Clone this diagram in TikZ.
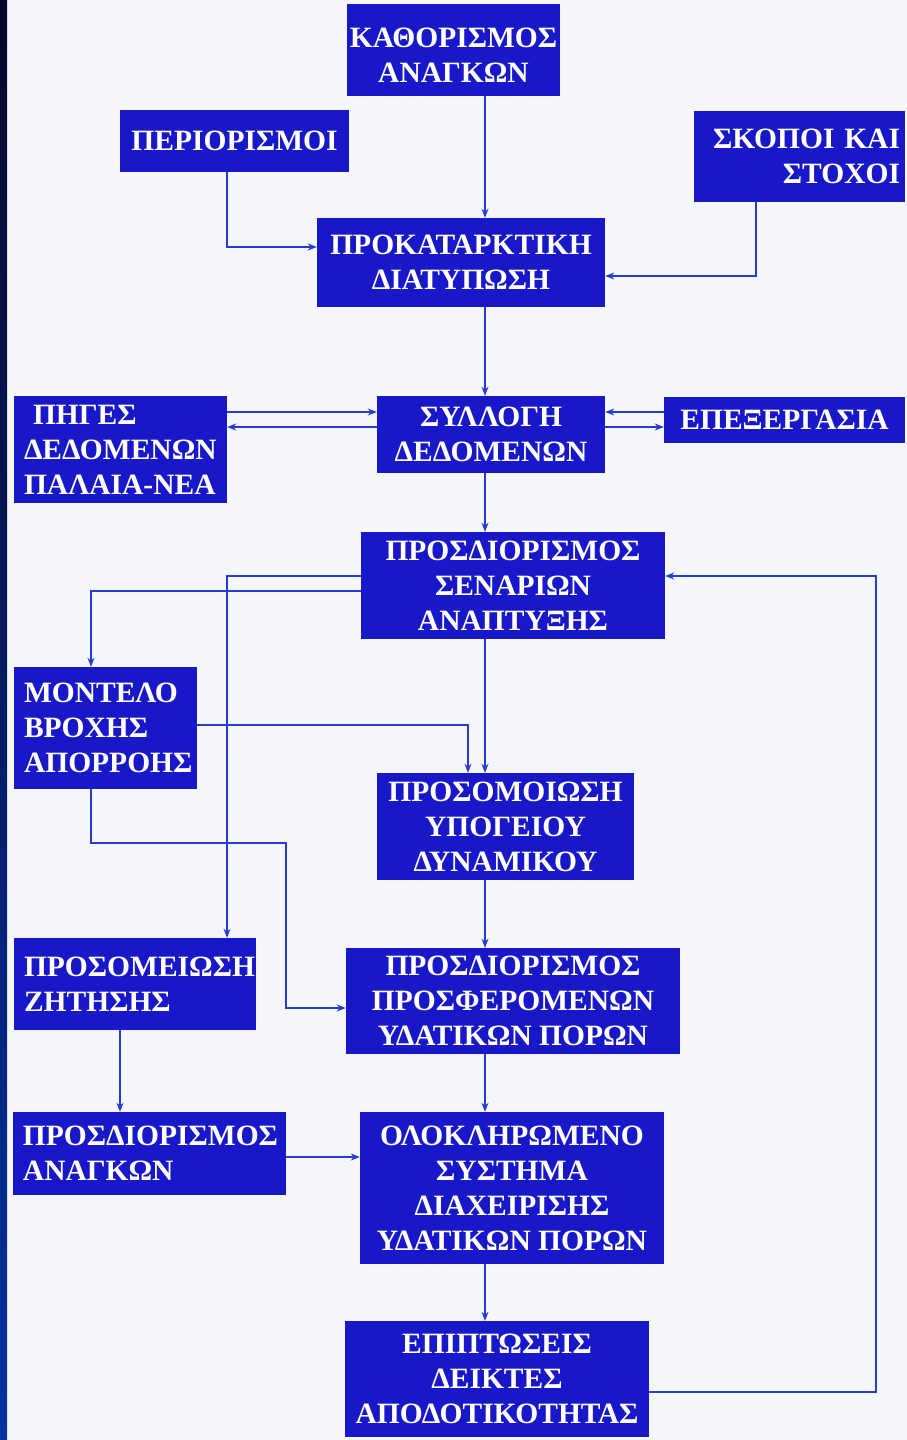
\documentclass[tikz,border=0pt]{standalone}
\usepackage{fontspec}
\setmainfont{Liberation Serif}
\usepackage{tikz}
\usetikzlibrary{arrows.meta,positioning}
\definecolor{boxblue}{RGB}{24,24,200}
\definecolor{lineblue}{RGB}{40,60,210}
\definecolor{pagebg}{RGB}{246,247,252}
\definecolor{stripnavy}{RGB}{6,8,40}
\definecolor{stripblue}{RGB}{4,50,160}

\begin{document}
\begin{tikzpicture}[
x=1pt, y=-1pt,
font=\bfseries\fontsize{29.5}{35}\selectfont,
block/.style={fill=boxblue, text=white, inner sep=0pt, align=center},
leftblock/.style={block, align=left, inner xsep=10pt},
flow/.style={lineblue, line width=1.4pt, -{Stealth[length=9pt,width=7pt]}}
]
    % Page and left strip
    \useasboundingbox (0,0) rectangle (907,1440);
    \fill[pagebg] (0,0) rectangle (907,1440);
    \shade[top color=stripnavy, bottom color=stripblue] (0,0) rectangle (7,1440);

    % Boxes
    \node[block, minimum width=213pt, minimum height=92pt] (kath) at (453.5,50) {\rule{0pt}{30pt}ΚΑΘΟΡΙΣΜΟΣ\\ΑΝΑΓΚΩΝ};
    \node[block, minimum width=229pt, minimum height=62pt] (perior) at (234.5,141) {ΠΕΡΙΟΡΙΣΜΟΙ};
    \node[block, align=right, inner xsep=5pt, text width=201pt, minimum height=91pt] (skopoi) at (799.5,156.5) {ΣΚΟΠΟΙ ΚΑΙ\\ΣΤΟΧΟΙ};
    \node[block, minimum width=288pt, minimum height=89pt] (prok) at (461,262.5) {ΠΡΟΚΑΤΑΡΚΤΙΚΗ\\ΔΙΑΤΥΠΩΣΗ};
    \node[leftblock, text width=193pt, minimum height=107pt] (piges) at (120.5,449.5) {\hspace{9pt}ΠΗΓΕΣ\\ΔΕΔΟΜΕΝΩΝ\\ΠΑΛΑΙΑ-ΝΕΑ};
    \node[block, minimum width=228pt, minimum height=77pt] (syl) at (491,434.5) {ΣΥΛΛΟΓΗ\\ΔΕΔΟΜΕΝΩΝ};
    \node[block, minimum width=241pt, minimum height=46pt] (epex) at (784.5,420) {ΕΠΕΞΕΡΓΑΣΙΑ};
    \node[block, minimum width=304pt, minimum height=107pt] (senar) at (513,585.5) {ΠΡΟΣΔΙΟΡΙΣΜΟΣ\\ΣΕΝΑΡΙΩΝ\\ΑΝΑΠΤΥΞΗΣ};
    \node[leftblock, text width=163pt, minimum height=122pt] (montelo) at (105.5,728) {ΜΟΝΤΕΛΟ\\ΒΡΟΧΗΣ\\ΑΠΟΡΡΟΗΣ};
    \node[block, minimum width=257pt, minimum height=107pt] (ypog) at (505.5,826.5) {ΠΡΟΣΟΜΟΙΩΣΗ\\ΥΠΟΓΕΙΟΥ\\ΔΥΝΑΜΙΚΟΥ};
    \node[leftblock, text width=222pt, minimum height=92pt] (zitisi) at (135,984) {ΠΡΟΣΟΜΕΙΩΣΗ\\ΖΗΤΗΣΗΣ};
    \node[block, minimum width=334pt, minimum height=106pt] (prosf) at (513,1001) {ΠΡΟΣΔΙΟΡΙΣΜΟΣ\\ΠΡΟΣΦΕΡΟΜΕΝΩΝ\\ΥΔΑΤΙΚΩΝ ΠΟΡΩΝ};
    \node[leftblock, text width=253pt, minimum height=83pt] (anagk) at (149.5,1153.5) {ΠΡΟΣΔΙΟΡΙΣΜΟΣ\\ΑΝΑΓΚΩΝ};
    \node[block, minimum width=304pt, minimum height=152pt] (olok) at (512,1188) {ΟΛΟΚΛΗΡΩΜΕΝΟ\\ΣΥΣΤΗΜΑ\\ΔΙΑΧΕΙΡΙΣΗΣ\\ΥΔΑΤΙΚΩΝ ΠΟΡΩΝ};
    \node[block, minimum width=304pt, minimum height=116pt] (epipt) at (497,1379) {ΕΠΙΠΤΩΣΕΙΣ\\ΔΕΙΚΤΕΣ\\ΑΠΟΔΟΤΙΚΟΤΗΤΑΣ};

    % Helper columns and rows
    \coordinate (colM) at (485,0);
    \coordinate (colP) at (227,247);
    \coordinate (colS) at (756,276);
    \coordinate (rowA) at (0,412);
    \coordinate (rowB) at (0,427);
    \coordinate (colZ) at (227,576);
    \coordinate (colR) at (91,591);
    \coordinate (colY) at (468,725);
    \coordinate (bendK) at (286,843);
    \coordinate (rowF) at (0,1008);
    \coordinate (colQ) at (120,0);
    \coordinate (rowN) at (0,1157);
    \coordinate (loopR) at (876,1392);

    % Connectors
    \draw[flow] (kath.south -| colM) -- (prok.north -| colM);
    \draw[flow] (perior.south -| colP) |- (prok.west |- colP);
    \draw[flow] (skopoi.south -| colS) |- (prok.east |- colS);
    \draw[flow] (prok.south -| colM) -- (syl.north -| colM);

    \draw[flow] (piges.east |- rowA) -- (syl.west |- rowA);
    \draw[flow] (syl.west |- rowB) -- (piges.east |- rowB);
    \draw[flow] (epex.west |- rowA) -- (syl.east |- rowA);
    \draw[flow] (syl.east |- rowB) -- (epex.west |- rowB);

    \draw[flow] (syl.south -| colM) -- (senar.north -| colM);
    \draw[flow] (senar.west |- colZ) -| (zitisi.north -| colZ);
    \draw[flow] (senar.west |- colR) -| (montelo.north -| colR);
    \draw[flow] (senar.south -| colM) -- (ypog.north -| colM);
    \draw[flow] (montelo.east |- colY) -| (ypog.north -| colY);
    \draw[flow] (montelo.south -| colR) |- (bendK) |- (prosf.west |- rowF);
    \draw[flow] (ypog.south -| colM) -- (prosf.north -| colM);

    \draw[flow] (zitisi.south -| colQ) -- (anagk.north -| colQ);
    \draw[flow] (prosf.south -| colM) -- (olok.north -| colM);
    \draw[flow] (anagk.east |- rowN) -- (olok.west |- rowN);
    \draw[flow] (olok.south -| colM) -- (epipt.north -| colM);
    \draw[flow] (epipt.east |- loopR) -- (loopR) |- (senar.east |- colZ);

\end{tikzpicture}
\end{document}
